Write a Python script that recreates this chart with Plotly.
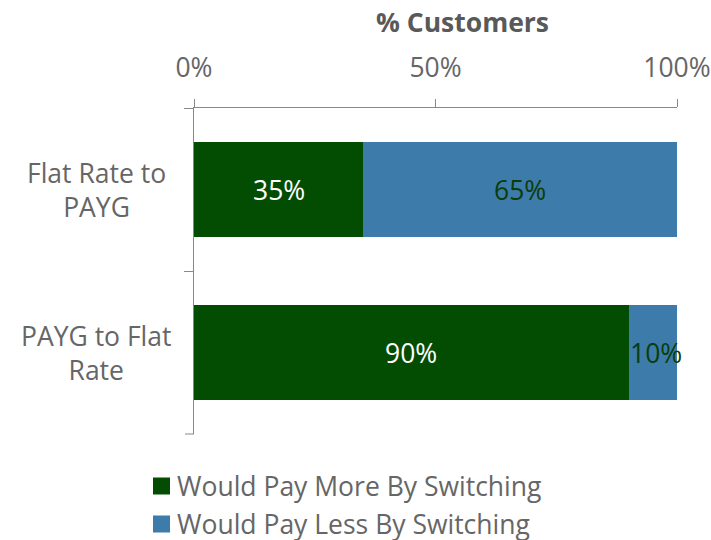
import plotly.graph_objects as go

# Data
categories = ["Flat Rate to PAYG", "PAYG to Flat Rate"]
category_labels = ["Flat Rate to<br>PAYG", "PAYG to Flat<br>Rate"]
series_names = ["Would Pay More By Switching", "Would Pay Less By Switching"]
pay_more = [35, 90]
pay_less = [65, 10]
x_ticks = [0, 50, 100]

GREEN = "#024d02"
BLUE = "#3d7bab"
GRAY = "#666666"
AXIS = "#888888"
FONT = "Open Sans"
FS = 26.5

W, H = 711, 540
ML, MR, MT, MB = 194, 34, 108, 106
PW, PH = W - ML - MR, H - MT - MB


def px_x(px):
    return (px - ML) / PW


def px_y(py):
    return (H - MB - py) / PH


fig = go.Figure()
fig.add_trace(go.Bar(y=categories, x=pay_more, name=series_names[0], orientation="h",
                     marker=dict(color=GREEN, line=dict(width=0)), showlegend=False))
fig.add_trace(go.Bar(y=categories, x=pay_less, name=series_names[1], orientation="h",
                     marker=dict(color=BLUE, line=dict(width=0)), showlegend=False))

# Value labels centred on each segment
for cat, a, b in zip(categories, pay_more, pay_less):
    fig.add_annotation(x=a / 2, y=cat, text=f"{a}%", showarrow=False,
                       font=dict(family=FONT, size=FS, color="white"))
    fig.add_annotation(x=a + b / 2, y=cat, text=f"{b}%", showarrow=False,
                       xshift=3 if b < 20 else 0,
                       font=dict(family=FONT, size=FS, color="#0b3d0b"))

# Category labels, centre-aligned multi-line
for cat, lab in zip(categories, category_labels):
    fig.add_annotation(x=px_x(96), xref="paper", y=cat, yref="y", text=lab,
                       showarrow=False, align="center", xanchor="center",
                       font=dict(family=FONT, size=FS, color=GRAY))

# Axis title
fig.add_annotation(x=px_x(462), xref="paper", y=px_y(22), yref="paper",
                   yanchor="middle", xanchor="center",
                   text="<b>% Customers</b>", showarrow=False,
                   font=dict(family=FONT, size=FS, color="#595959"))

# Closing band tick at the bottom of the category axis
fig.add_shape(type="line", xref="paper", yref="paper",
              x0=px_x(185), x1=0, y0=0, y1=0, line=dict(color=AXIS, width=1))

# Legend: square swatch + label per series
for i, (name, color) in enumerate(zip(series_names, [GREEN, BLUE])):
    cy = 486 + 38 * i
    fig.add_shape(type="rect", xref="paper", yref="paper",
                  x0=px_x(153), x1=px_x(170), y0=px_y(cy - 8.5), y1=px_y(cy + 8.5),
                  fillcolor=color, line=dict(width=0))
    fig.add_annotation(x=px_x(175), xref="paper", y=px_y(cy), yref="paper",
                       xanchor="left", yanchor="middle", text=name, showarrow=False,
                       font=dict(family=FONT, size=FS, color=GRAY))

fig.update_layout(
    barmode="stack",
    bargap=0.417,
    width=W, height=H,
    margin=dict(l=ML, r=MR, t=MT, b=MB, autoexpand=False),
    paper_bgcolor="white", plot_bgcolor="white",
    font=dict(family=FONT, size=FS, color=GRAY),
    showlegend=False,
    xaxis=dict(side="top", range=[0, 100], tickvals=x_ticks,
               ticktext=[f"{v}%" for v in x_ticks],
               showgrid=False, zeroline=False, showline=True, linecolor=AXIS,
               linewidth=1, ticks="outside", ticklen=8, tickcolor=AXIS,
               ticklabelstandoff=11, automargin=False,
               tickfont=dict(family=FONT, size=FS, color=GRAY)),
    yaxis=dict(categoryorder="array", categoryarray=categories, autorange="reversed",
               showticklabels=False, showgrid=False, zeroline=False, automargin=False,
               showline=True, linecolor=AXIS, linewidth=1,
               ticks="outside", tickson="boundaries", ticklen=9, tickcolor=AXIS),
)

fig.write_html("out.html")
